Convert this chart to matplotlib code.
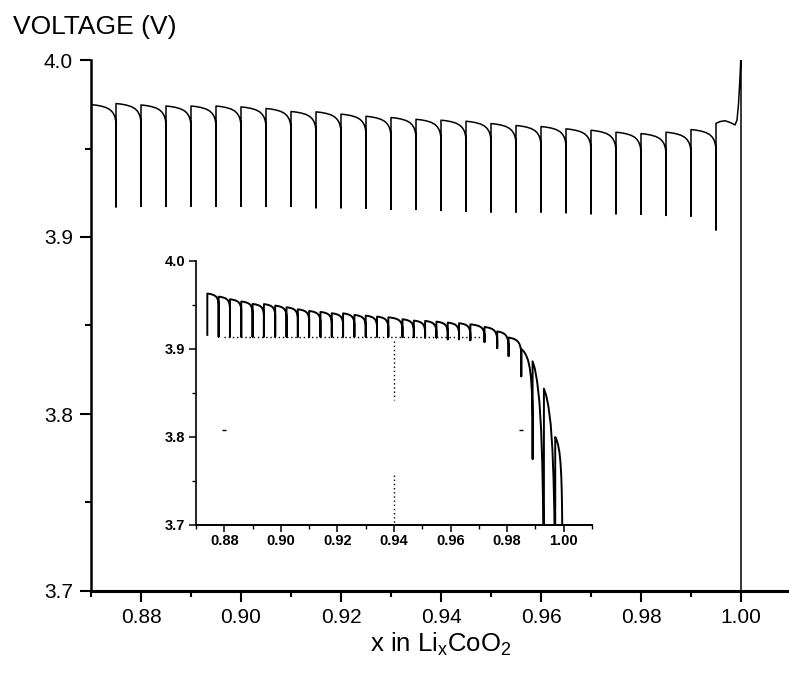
import numpy as np
import matplotlib.pyplot as plt
from matplotlib.ticker import MultipleLocator, FormatStrFormatter

plt.rcParams['font.family'] = ['Liberation Sans', 'DejaVu Sans']
plt.rcParams['mathtext.fontset'] = 'custom'
plt.rcParams['mathtext.rm'] = 'Liberation Sans'

# ---- main trace (x in LixCoO2, voltage) ----
main_pulse_x = [0.875, 0.880, 0.885, 0.890, 0.895, 0.900, 0.905, 0.910, 0.915, 0.920,
                0.925, 0.930, 0.935, 0.940, 0.945, 0.950, 0.955, 0.960, 0.965, 0.970,
                0.975, 0.980, 0.985, 0.990, 0.995]
# relaxed voltage at the start of each step (first one at x = 0.87)
main_top = [3.9748, 3.9754, 3.9746, 3.9740, 3.9740, 3.9740, 3.9735, 3.9726, 3.9709, 3.9707,
            3.9694, 3.9682, 3.9675, 3.9665, 3.9660, 3.9654, 3.9641, 3.9630, 3.9624, 3.9611,
            3.9603, 3.9592, 3.9584, 3.9592, 3.9607, 3.9642]
# voltage just before each pulse
main_end = [3.9645, 3.9650, 3.9640, 3.9635, 3.9635, 3.9635, 3.9630, 3.9620, 3.9605, 3.9600,
            3.9590, 3.9575, 3.9570, 3.9560, 3.9555, 3.9550, 3.9535, 3.9525, 3.9520, 3.9505,
            3.9495, 3.9485, 3.9480, 3.9485, 3.9500]
# lowest voltage reached in each pulse
main_bottom = [3.9170, 3.9173, 3.9173, 3.9173, 3.9173, 3.9173, 3.9173, 3.9173, 3.9165, 3.9165,
               3.9163, 3.9156, 3.9156, 3.9150, 3.9146, 3.9141, 3.9141, 3.9141, 3.9137, 3.9131,
               3.9131, 3.9128, 3.9122, 3.9118, 3.9040]
main_tail_x = [0.9958, 0.9968, 0.9980, 0.9988, 0.9992, 0.9995, 0.9998, 0.99995, 1.0, 1.0]
main_tail_v = [3.9652, 3.9657, 3.9645, 3.9633, 3.9660, 3.9750, 3.9900, 4.0000, 4.0, 3.69]

# ---- inset trace ----
inset_pulse_x = [0.874, 0.878, 0.882, 0.886, 0.890, 0.894, 0.898, 0.902, 0.906, 0.910,
                 0.914, 0.918, 0.922, 0.926, 0.930, 0.934, 0.938, 0.943, 0.947, 0.951,
                 0.955, 0.959, 0.963, 0.967, 0.972, 0.9765, 0.9805, 0.985, 0.989, 0.993,
                 0.997]
inset_top = [3.9630, 3.9595, 3.9565, 3.9540, 3.9512, 3.9510, 3.9493, 3.9474, 3.9451, 3.9432,
             3.9421, 3.9406, 3.9405, 3.9387, 3.9379, 3.9368, 3.9360, 3.9338, 3.9323, 3.9319,
             3.9311, 3.9300, 3.9293, 3.9280, 3.9250, 3.9200, 3.9130, 3.9000, 3.8860, 3.8550,
             3.8000]
inset_end = [3.9510, 3.9475, 3.9445, 3.9420, 3.9392, 3.9390, 3.9373, 3.9354, 3.9331, 3.9312,
             3.9301, 3.9286, 3.9285, 3.9267, 3.9259, 3.9248, 3.9240, 3.9218, 3.9203, 3.9199,
             3.9191, 3.9180, 3.9173, 3.9160, 3.9110, 3.9040, 3.8950, 3.8200, 3.6000, 3.6000,
             3.6900]
inset_bottom = [3.9160, 3.9140, 3.9140, 3.9140, 3.9140, 3.9140, 3.9140, 3.9140, 3.9140, 3.9140,
                3.9140, 3.9140, 3.9140, 3.9140, 3.9140, 3.9140, 3.9140, 3.9135, 3.9135, 3.9130,
                3.9130, 3.9110, 3.9110, 3.9100, 3.9080, 3.9010, 3.8920, 3.8690, 3.7750, 3.6500,
                3.6500]
inset_last_x = 0.9995

# shape of the decay inside one step (fraction of step, fraction of drop)
bend_t = [0.0, 0.2, 0.4, 0.6, 0.75, 0.85, 0.92, 0.97, 1.0]
bend_f = [0.0, 0.03, 0.08, 0.16, 0.27, 0.40, 0.55, 0.75, 1.0]

# crosshair remnants in the inset
hline_y = 3.914
hline_x = [0.880, 0.972]
vline_x = 0.94
vline_parts = [(3.909, 3.842), (3.757, 3.700)]
dots_x = [0.880, 0.985]
dots_y = [3.808, 3.808]


def step(x0, x1, top, end):
    t = np.array(bend_t)
    f = np.array(bend_f)
    return list(x0 + t * (x1 - x0)), list(top - f * (top - end))


# build main path
xs, vs = [], []
starts = [0.87] + main_pulse_x
for i, xp in enumerate(main_pulse_x):
    sx, sv = step(starts[i], xp, main_top[i], main_end[i])
    xs += sx + [xp, xp]
    vs += sv + [main_bottom[i], main_top[i + 1]]
xs += main_tail_x
vs += main_tail_v

# build inset path
ixs, ivs = [inset_pulse_x[0]], [inset_bottom[0]]
nxt = inset_pulse_x[1:] + [inset_last_x]
for i, xp in enumerate(inset_pulse_x):
    if i > 0:
        ixs += [xp]
        ivs += [inset_bottom[i]]
    ixs += [xp]
    ivs += [inset_top[i]]
    sx, sv = step(xp, nxt[i], inset_top[i], inset_end[i])
    ixs += sx
    ivs += sv

fig = plt.figure(figsize=(7.89, 6.8), dpi=100)
ax = fig.add_axes([91 / 789, 89 / 680, 700 / 789, 531 / 680])
ax.plot(xs, vs, color='black', lw=1.1)
ax.set_xlim(0.87, 1.01)
ax.set_ylim(3.7, 4.0)
for s in ['top', 'right']:
    ax.spines[s].set_visible(False)
ax.spines['left'].set_linewidth(1.8)
ax.spines['bottom'].set_linewidth(2.2)
ax.xaxis.set_major_locator(MultipleLocator(0.02))
ax.xaxis.set_minor_locator(MultipleLocator(0.01))
ax.yaxis.set_major_locator(MultipleLocator(0.1))
ax.yaxis.set_minor_locator(MultipleLocator(0.05))
ax.xaxis.set_major_formatter(FormatStrFormatter('%.2f'))
ax.yaxis.set_major_formatter(FormatStrFormatter('%.1f'))
ax.tick_params(which='major', length=8, width=1.5, labelsize=15, direction='out')
ax.tick_params(which='minor', length=4.5, width=1.5, direction='out')
ax.tick_params(axis='y', which='major', pad=5)
ax.tick_params(axis='x', which='major', pad=4)

fig.text(13 / 789, 1 - 15 / 680, 'VOLTAGE (V)', fontsize=19, ha='left', va='top')
fig.text(441 / 789, 1 - 652 / 680, r'x in Li$_{\mathregular{x}}$CoO$_{\mathregular{2}}$',
         fontsize=18.5, ha='center', va='baseline')

ins = fig.add_axes([196 / 789, 155 / 680, 396 / 789, 264 / 680])
ins.patch.set_alpha(0)
ins.plot(ixs, ivs, color='black', lw=1.4)
ins.plot(hline_x, [hline_y, hline_y], color='black', lw=1.0, linestyle=(0, (1, 2.0)))
for y0, y1 in vline_parts:
    ins.plot([vline_x, vline_x], [y0, y1], color='black', lw=1.0, linestyle=(0, (1, 2.0)))
ins.plot(dots_x, dots_y, linestyle='none', marker='_', markersize=3, color='black')
ins.set_xlim(0.87, 1.01)
ins.set_ylim(3.7, 4.0)
for s in ['top', 'right']:
    ins.spines[s].set_visible(False)
ins.spines['left'].set_linewidth(1.2)
ins.spines['bottom'].set_linewidth(1.4)
ins.xaxis.set_major_locator(MultipleLocator(0.02))
ins.xaxis.set_minor_locator(MultipleLocator(0.01))
ins.yaxis.set_major_locator(MultipleLocator(0.1))
ins.yaxis.set_minor_locator(MultipleLocator(0.05))
ins.xaxis.set_major_formatter(FormatStrFormatter('%.2f'))
ins.yaxis.set_major_formatter(FormatStrFormatter('%.1f'))
ins.tick_params(which='major', length=5, width=1.1, labelsize=10.5, direction='out', pad=3)
ins.tick_params(axis='x', which='major', pad=1.5)
ins.tick_params(which='minor', length=3, width=1.0, direction='out')
for lab in ins.get_xticklabels() + ins.get_yticklabels():
    lab.set_fontweight('bold')

fig.savefig('out.png', dpi=100)
